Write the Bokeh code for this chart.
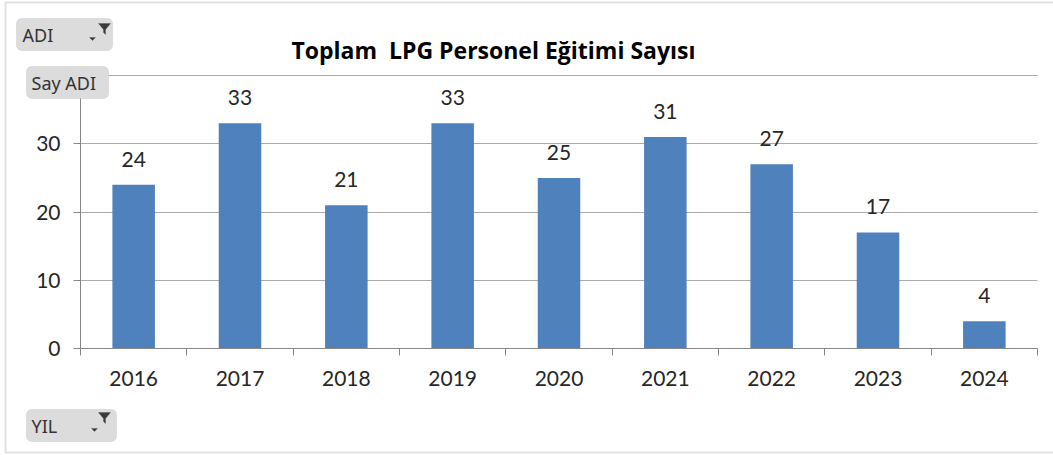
from bokeh.plotting import figure
from bokeh.models import (ColumnDataSource, Range1d, LinearAxis,
                          FixedTicker, LabelSet, Label, BoxAnnotation, PolyAnnotation, Grid)
from bokeh.core.properties import value
from bokeh.embed import file_html
from bokeh.resources import INLINE

# ---- data ----
years = ["2016", "2017", "2018", "2019", "2020", "2021", "2022", "2023", "2024"]
counts = [24, 33, 21, 33, 25, 31, 27, 17, 4]
y_ticks = [0, 10, 20, 30, 40]
y_max = 40
title_text = "Toplam\u00a0 LPG Personel Eğitimi Sayısı"
btn_adi = "ADI"
btn_say = "Say ADI"
btn_yil = "YIL"

FONT = "Lato"
TXT = "#262626"
AX = "#868686"
GRID = "#ababab"
BAR = "#4F81BD"

# ---- layout (pixels) ----
W, H = 1053, 455
PL, PR, PT, PB = 80, 1037, 75, 348   # plot area edges on the canvas

n = len(years)
centers = [i + 0.5 for i in range(n)]
edges = list(range(n + 1))
src = ColumnDataSource(dict(x=centers, year=years, count=counts, label=[str(c) for c in counts]))

ppx = (PR - PL) / n
ppy = (PB - PT) / y_max
x_rng = Range1d(-PL / ppx, n + (W - PR) / ppx)
y_rng = Range1d(-(H - PB) / ppy, y_max + PT / ppy)

p = figure(x_range=x_rng, y_range=y_rng, width=W, height=H,
           min_border=0, min_border_left=0, min_border_right=0,
           min_border_top=0, min_border_bottom=0,
           x_axis_location=None, y_axis_location=None,
           toolbar_location=None, output_backend="svg",
           outline_line_color=None, background_fill_color="white", border_fill_color="white")
p.grid.visible = False

# grid (horizontal lines limited to the plot area)
grid_kw = dict(dimension=1, ticker=FixedTicker(ticks=y_ticks), grid_line_color=GRID, grid_line_width=1)
if "cross_bounds" in Grid.properties():
    grid_kw["cross_bounds"] = (0, n)
p.add_layout(Grid(**grid_kw))

# y axis
y_axis = LinearAxis(ticker=FixedTicker(ticks=y_ticks), fixed_location=0, bounds=(0, y_max),
                    major_tick_out=7, major_tick_in=0,
                    minor_tick_line_color=None, axis_line_color=AX, major_tick_line_color=AX,
                    major_label_standoff=13, major_label_text_font=FONT,
                    major_label_text_font_size="21px", major_label_text_color=TXT)
p.add_layout(y_axis, "left")

# x axis: boundary ticks (minor) + centred year labels
x_axis = LinearAxis(ticker=FixedTicker(ticks=centers, minor_ticks=edges), fixed_location=0,
                    bounds=(0, n),
                    major_label_overrides={c: y for c, y in zip(centers, years)},
                    axis_line_color=AX, major_tick_line_color=None, major_tick_out=0, major_tick_in=0,
                    minor_tick_line_color=AX, minor_tick_out=7, minor_tick_in=0,
                    major_label_standoff=15, major_label_text_font=FONT,
                    major_label_text_font_size="21px", major_label_text_color=TXT)
p.add_layout(x_axis, "below")

# bars
p.vbar(x="x", top="count", width=0.4, source=src, fill_color=BAR, line_color=None)

# data labels
p.add_layout(LabelSet(x="x", y="count", text="label", source=src, y_offset=18,
                      text_align="center", text_baseline="alphabetic",
                      text_font=value(FONT), text_font_size="21px", text_color=TXT))


# helpers: screen coords from canvas top-left (y down) -> frame units (y up)
def sy(Y):
    return H - Y


# title
p.add_layout(Label(x=493, y=sy(49), x_units="screen", y_units="screen", text=title_text,
                   text_align="center", text_baseline="middle", text_font="Open Sans",
                   text_font_style="bold", text_font_size="23px", text_color="black"))

# outer border
p.add_layout(BoxAnnotation(left=5, right=W + 10, top=sy(2), bottom=sy(452),
                           left_units="screen", right_units="screen",
                           top_units="screen", bottom_units="screen",
                           fill_color=None, line_color="#9a9a9a", line_width=2))


def button(X0, X1, Y0, Y1):
    p.add_layout(BoxAnnotation(left=X0, right=X1, top=sy(Y0), bottom=sy(Y1),
                               left_units="screen", right_units="screen",
                               top_units="screen", bottom_units="screen",
                               fill_color="#dcdcdc", fill_alpha=1.0,
                               line_color="#b8b8b8", line_width=1, border_radius=5))


def btn_text(X, Y, t):
    p.add_layout(Label(x=X, y=sy(Y), x_units="screen", y_units="screen", text=t,
                       text_align="left", text_baseline="middle", text_font="Noto Sans",
                       text_font_size="18px", text_color="#333333"))


def funnel(X, Y):
    xs = [X, X + 12, X + 7, X + 7, X + 5, X + 5]
    ys = [sy(Y), sy(Y), sy(Y + 6), sy(Y + 11), sy(Y + 9), sy(Y + 6)]
    p.add_layout(PolyAnnotation(xs=xs, ys=ys, xs_units="screen", ys_units="screen",
                                fill_color="#3a3a3a", fill_alpha=1, line_color="#3a3a3a",
                                line_width=1))


def arrow(X, Y):
    p.add_layout(PolyAnnotation(xs=[X, X + 6, X + 3], ys=[sy(Y), sy(Y), sy(Y + 3)],
                                xs_units="screen", ys_units="screen",
                                fill_color="#3a3a3a", fill_alpha=1, line_color="#3a3a3a",
                                line_width=1))


# ADI button
button(16, 112, 18, 50)
btn_text(22, 34, btn_adi)
funnel(98, 23)
arrow(89, 37)

# Say ADI button
button(26, 108, 66, 98)
btn_text(31, 82, btn_say)

# YIL button
button(26, 116, 409, 441)
btn_text(31, 425, btn_yil)
funnel(98, 412)
arrow(91, 428)

open("out.html", "w").write(file_html(p, INLINE))
